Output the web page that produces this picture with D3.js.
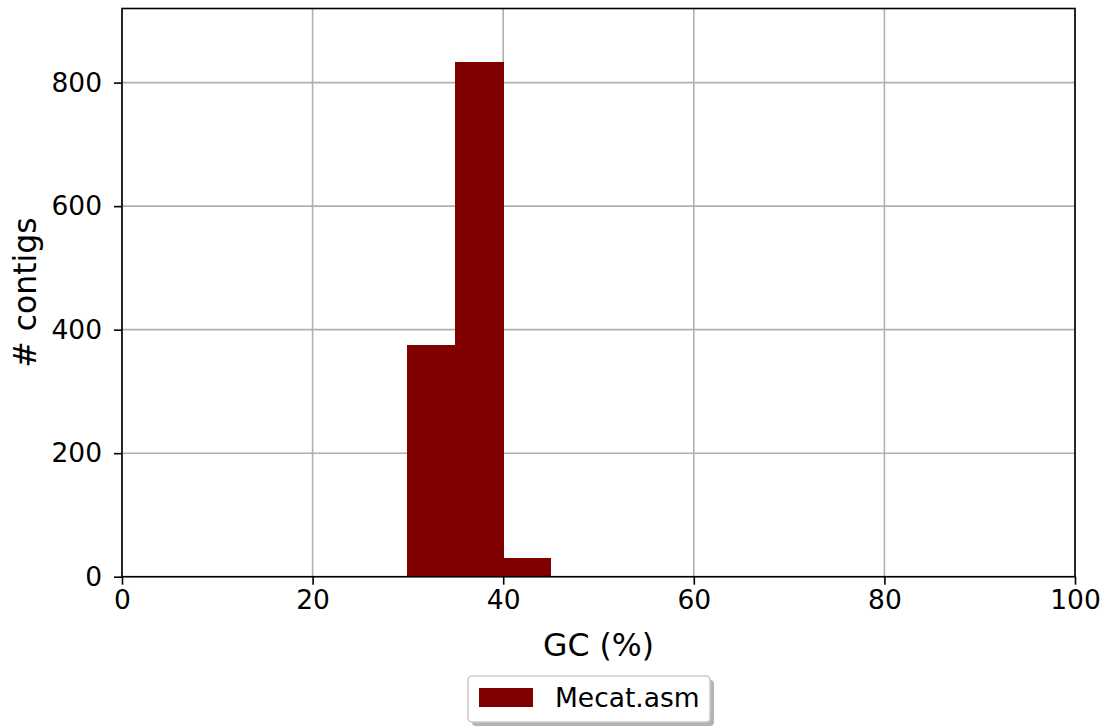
<!DOCTYPE html>
<html>
<head>
<meta charset="utf-8">
<script src="https://cdn.jsdelivr.net/npm/d3@7/dist/d3.min.js"></script>
<style>
  html, body { margin: 0; padding: 0; background: #fff; }
  svg { display: block; font-family: "DejaVu Sans", sans-serif; }
</style>
</head>
<body>
<svg id="chart" width="1104" height="728"></svg>
<script>
// GC content histogram of contigs (5% bins)
const binStarts = [30, 35, 40];
const binWidth = 5;
const contigCounts = [375, 833, 30];
const xTicks = [0, 20, 40, 60, 80, 100];
const yTicks = [0, 200, 400, 600, 800];
const seriesName = "Mecat.asm";
const barColor = "#800000";

const svg = d3.select("#chart");
const plotLeft = 122, plotRight = 1075, plotTop = 8.5, plotBottom = 576.7;

const x = d3.scaleLinear().domain([0, 100]).range([plotLeft, plotRight]);
const y = d3.scaleLinear().domain([0, 920]).range([plotBottom, plotTop]);

// grid
const grid = svg.append("g").attr("stroke", "#b0b0b0").attr("stroke-width", 1.6);
grid.selectAll("line.gx").data(xTicks).join("line").attr("class", "gx")
  .attr("x1", d => x(d)).attr("x2", d => x(d)).attr("y1", plotTop).attr("y2", plotBottom);
grid.selectAll("line.gy").data(yTicks).join("line").attr("class", "gy")
  .attr("x1", plotLeft).attr("x2", plotRight).attr("y1", d => y(d)).attr("y2", d => y(d));

// bars (adjacent bins share an edge, so draw them without anti-aliased seams)
svg.append("g").attr("shape-rendering", "crispEdges")
  .selectAll("rect").data(binStarts).join("rect")
  .attr("x", d => x(d))
  .attr("width", d => x(d + binWidth) - x(d))
  .attr("y", (d, i) => y(contigCounts[i]))
  .attr("height", (d, i) => y(0) - y(contigCounts[i]))
  .attr("fill", barColor)
  .attr("stroke", barColor)
  .attr("stroke-width", 1);

// axes
const xAxis = svg.append("g").attr("transform", `translate(0,${plotBottom})`)
  .call(d3.axisBottom(x).tickValues(xTicks).tickSize(8).tickPadding(5).tickFormat(d3.format("d")));
const yAxis = svg.append("g").attr("transform", `translate(${plotLeft},0)`)
  .call(d3.axisLeft(y).tickValues(yTicks).tickSize(8).tickPadding(12).tickFormat(d3.format("d")));
[xAxis, yAxis].forEach(a => {
  a.select(".domain").remove();
  a.selectAll(".tick line").attr("stroke", "#000").attr("stroke-width", 1.6);
  a.selectAll(".tick text").attr("fill", "#000").style("font-size", "26.5px")
    .style("font-family", "DejaVu Sans, sans-serif");
});

// frame
svg.append("rect").attr("x", plotLeft).attr("y", plotTop)
  .attr("width", plotRight - plotLeft).attr("height", plotBottom - plotTop)
  .attr("fill", "none").attr("stroke", "#000").attr("stroke-width", 1.6);

// axis titles
svg.append("text").attr("x", (plotLeft + plotRight) / 2).attr("y", 656)
  .attr("text-anchor", "middle").style("font-size", "31.5px").text("GC (%)");
svg.append("text").attr("transform", "translate(36,292.5) rotate(-90)")
  .attr("text-anchor", "middle").style("font-size", "31.5px").text("# contigs");

// legend
const lg = svg.append("g");
lg.append("rect").attr("x", 472).attr("y", 680).attr("width", 242).attr("height", 46)
  .attr("rx", 4).attr("fill", "#808080").attr("opacity", 0.6);
lg.append("rect").attr("x", 468).attr("y", 676).attr("width", 242).attr("height", 46)
  .attr("rx", 4).attr("fill", "#fff").attr("stroke", "#ccc").attr("stroke-width", 1.6);
lg.append("rect").attr("x", 479).attr("y", 688).attr("width", 54).attr("height", 19)
  .attr("fill", barColor);
lg.append("text").attr("x", 555).attr("y", 707).style("font-size", "26.5px").text(seriesName);
</script>
</body>
</html>
